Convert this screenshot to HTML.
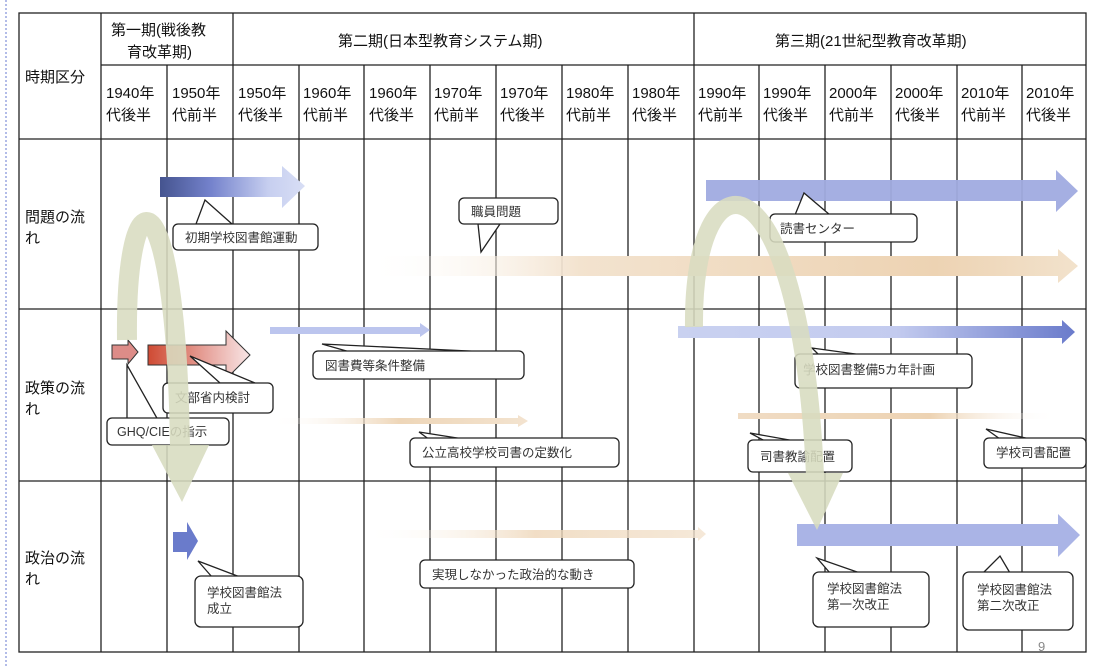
<!DOCTYPE html>
<html><head><meta charset="utf-8"><style>
html,body{margin:0;padding:0;background:#fff;}
svg{display:block;font-family:"Liberation Sans","Noto Sans CJK JP",sans-serif;}
.h{font-size:15px;fill:#111;}
.c{font-size:12.5px;fill:#333;}
.cb rect,.cb path{fill:#fff;stroke:#222;stroke-width:1.3;}
</style></head><body>
<svg width="1110" height="668" viewBox="0 0 1110 668">
<defs>
<linearGradient id="gb1" x1="0" x2="1"><stop offset="0" stop-color="#45548f"/><stop offset="0.35" stop-color="#7482cc"/><stop offset="0.75" stop-color="#c7cff0"/><stop offset="1" stop-color="#d8def5"/></linearGradient>
<linearGradient id="gp" x1="0" x2="1"><stop offset="0" stop-color="#fff" stop-opacity="0"/><stop offset="0.3" stop-color="#f3e3cf"/><stop offset="0.8" stop-color="#edd3b3"/><stop offset="1" stop-color="#f2e2cc"/></linearGradient>
<linearGradient id="gp2" x1="0" x2="1"><stop offset="0" stop-color="#fff" stop-opacity="0"/><stop offset="0.5" stop-color="#eed6b8"/><stop offset="1" stop-color="#f3e3cf"/></linearGradient>
<linearGradient id="gp3" x1="0" x2="1"><stop offset="0" stop-color="#f0dcc4"/><stop offset="0.6" stop-color="#edd3b3"/><stop offset="1" stop-color="#fff" stop-opacity="0"/></linearGradient>
<linearGradient id="gb2" x1="0" x2="1"><stop offset="0" stop-color="#c9d1f0"/><stop offset="0.55" stop-color="#c3cbef"/><stop offset="1" stop-color="#6a7bcb"/></linearGradient>
<linearGradient id="gr" x1="0" x2="1"><stop offset="0" stop-color="#cf4a33"/><stop offset="0.6" stop-color="#e8a7a0"/><stop offset="1" stop-color="#f8e6e6"/></linearGradient>
</defs>
<rect width="1110" height="668" fill="#fff"/>
<line x1="6" y1="0" x2="6" y2="668" stroke="#9aa6e0" stroke-width="1.5" stroke-dasharray="2,2"/>
<!-- grid -->
<g stroke="#222" stroke-width="1.3" fill="none">
<rect x="19" y="13" width="1067" height="639"/>
<line x1="101" y1="65" x2="1086" y2="65"/>
<line x1="19" y1="139" x2="1086" y2="139"/>
<line x1="19" y1="309" x2="1086" y2="309"/>
<line x1="19" y1="481" x2="1086" y2="481"/>
<line x1="101" y1="13" x2="101" y2="652"/>
<line x1="233" y1="13" x2="233" y2="652"/>
<line x1="694" y1="13" x2="694" y2="652"/>
<line x1="167" y1="65" x2="167" y2="652"/>
<line x1="299" y1="65" x2="299" y2="652"/>
<line x1="364" y1="65" x2="364" y2="652"/>
<line x1="430" y1="65" x2="430" y2="652"/>
<line x1="496" y1="65" x2="496" y2="652"/>
<line x1="562" y1="65" x2="562" y2="652"/>
<line x1="628" y1="65" x2="628" y2="652"/>
<line x1="759" y1="65" x2="759" y2="652"/>
<line x1="825" y1="65" x2="825" y2="652"/>
<line x1="891" y1="65" x2="891" y2="652"/>
<line x1="957" y1="65" x2="957" y2="652"/>
<line x1="1022" y1="65" x2="1022" y2="652"/>
</g>
<!-- headers -->
<g class="h">
<text x="25" y="82">時期区分</text>
<text x="111" y="35">第一期(戦後教</text>
<text x="127" y="57">育改革期)</text>
<text x="338" y="46">第二期(日本型教育システム期)</text>
<text x="775" y="46">第三期(21世紀型教育改革期)</text>
<text x="25" y="222">問題の流</text><text x="25" y="243">れ</text>
<text x="25" y="393">政策の流</text><text x="25" y="414">れ</text>
<text x="25" y="563">政治の流</text><text x="25" y="584">れ</text>
</g>
<g class="h">
<text x="106" y="98">1940年</text><text x="106" y="120">代後半</text>
<text x="172" y="98">1950年</text><text x="172" y="120">代前半</text>
<text x="238" y="98">1950年</text><text x="238" y="120">代後半</text>
<text x="303" y="98">1960年</text><text x="303" y="120">代前半</text>
<text x="369" y="98">1960年</text><text x="369" y="120">代後半</text>
<text x="434" y="98">1970年</text><text x="434" y="120">代前半</text>
<text x="500" y="98">1970年</text><text x="500" y="120">代後半</text>
<text x="566" y="98">1980年</text><text x="566" y="120">代前半</text>
<text x="632" y="98">1980年</text><text x="632" y="120">代後半</text>
<text x="698" y="98">1990年</text><text x="698" y="120">代前半</text>
<text x="763" y="98">1990年</text><text x="763" y="120">代後半</text>
<text x="829" y="98">2000年</text><text x="829" y="120">代前半</text>
<text x="895" y="98">2000年</text><text x="895" y="120">代後半</text>
<text x="961" y="98">2010年</text><text x="961" y="120">代前半</text>
<text x="1026" y="98">2010年</text><text x="1026" y="120">代後半</text>
</g>
<!-- arrows -->
<path d="M160,177 H282 V166 L305,186 L282,208 V197 H160 Z" fill="url(#gb1)"/>
<path d="M706,180 H1056 V170 L1078,191 L1056,212 V201 H706 Z" fill="#a0abe0" opacity="0.95"/>
<path d="M365,256 H1058 V249 L1078,266 L1058,283 V276 H365 Z" fill="url(#gp)"/>
<path d="M270,327 H420 V323 L430,330 L420,337 V334 H270 Z" fill="#bcc5ee"/>
<path d="M678,326 H1062 V320 L1075,332 L1062,344 V338 H678 Z" fill="url(#gb2)"/>
<path d="M112,345 H128 V340 L138,352 L128,364 V359 H112 Z" fill="#dd8c88" stroke="#333" stroke-width="1"/>
<path d="M148,345 H226 V331 L250,355 L226,379 V365 H148 Z" fill="url(#gr)" stroke="#333" stroke-width="1"/>
<path d="M270,418 H518 V415 L528,421 L518,427 V424 H270 Z" fill="url(#gp2)"/>
<path d="M738,413 H1058 V419 H738 Z" fill="url(#gp3)"/>
<path d="M173,532 H187 V522 L198,541 L187,560 V552 H173 Z" fill="#6a7bcb"/>
<path d="M364,530 H698 V527 L706,534 L698,541 V538 H364 Z" fill="url(#gp2)" opacity="0.8"/>
<path d="M797,524 H1058 V514 L1080,535 L1058,557 V546 H797 Z" fill="#aab4e6"/>
<!-- callouts -->
<g class="cb">
<path d="M196,224 L205,200 L232,224 Z"/><rect x="173" y="224" width="145" height="26" rx="5"/>
<path d="M478,224 L481,252 L500,224 Z"/><rect x="459" y="198" width="99" height="26" rx="5"/>
<path d="M795,215 L804,193 L830,215 Z"/><rect x="770" y="214" width="147" height="28" rx="5"/>
<path d="M220,383 L190,356 L255,383 Z"/><rect x="163" y="383" width="110" height="30" rx="5"/>
<path d="M127,420 L127,365 L158,420 Z"/><rect x="107" y="418" width="122" height="27" rx="5"/>
<path d="M350,352 L322,344 L490,352 Z"/><rect x="313" y="351" width="211" height="28" rx="5"/>
<path d="M430,440 L419,432 L470,440 Z"/><rect x="410" y="438" width="209" height="29" rx="5"/>
<rect x="420" y="560" width="214" height="28" rx="5"/>
<path d="M820,356 L812,348 L870,356 Z"/><rect x="795" y="354" width="177" height="34" rx="5"/>
<path d="M765,441 L750,433 L795,441 Z"/><rect x="748" y="440" width="104" height="32" rx="5"/>
<path d="M1000,439 L986,429 L1030,439 Z"/><rect x="984" y="438" width="102" height="30" rx="5"/>
<path d="M212,577 L198,561 L240,577 Z"/><rect x="195" y="576" width="108" height="51" rx="6"/>
<path d="M830,573 L817,558 L860,573 Z"/><rect x="813" y="572" width="116" height="55" rx="6"/>
<path d="M983,573 L1000,556 L1010,573 Z"/><rect x="963" y="572" width="110" height="58" rx="6"/>
</g>
<g class="c">
<text x="185" y="242">初期学校図書館運動</text>
<text x="471" y="216">職員問題</text>
<text x="780" y="233">読書センター</text>
<text x="175" y="402">文部省内検討</text>
<text x="117" y="436">GHQ/CIEの指示</text>
<text x="325" y="370">図書費等条件整備</text>
<text x="422" y="457">公立高校学校司書の定数化</text>
<text x="432" y="579">実現しなかった政治的な動き</text>
<text x="803" y="374">学校図書整備5カ年計画</text>
<text x="760" y="461">司書教諭配置</text>
<text x="996" y="457">学校司書配置</text>
<text x="207" y="597">学校図書館法</text><text x="207" y="613">成立</text>
<text x="827" y="593">学校図書館法</text><text x="827" y="609">第一次改正</text>
<text x="977" y="594">学校図書館法</text><text x="977" y="610">第二次改正</text>
</g>
<!-- green curved arrows -->
<g opacity="0.88">
<path d="M127,340 C125,168 176,168 180,447" fill="none" stroke="#d8dcc0" stroke-width="20"/>
<path d="M152,445 L209,445 L182,502 Z" fill="#d8dcc0"/>
<path d="M694,327 C692,145 800,145 815,475" fill="none" stroke="#d8dcc0" stroke-width="18"/>
<path d="M788,473 L843,473 L817,530 Z" fill="#d8dcc0"/>
</g>
<text x="1038" y="651" font-size="13" fill="#888">9</text>
</svg>
</body></html>
